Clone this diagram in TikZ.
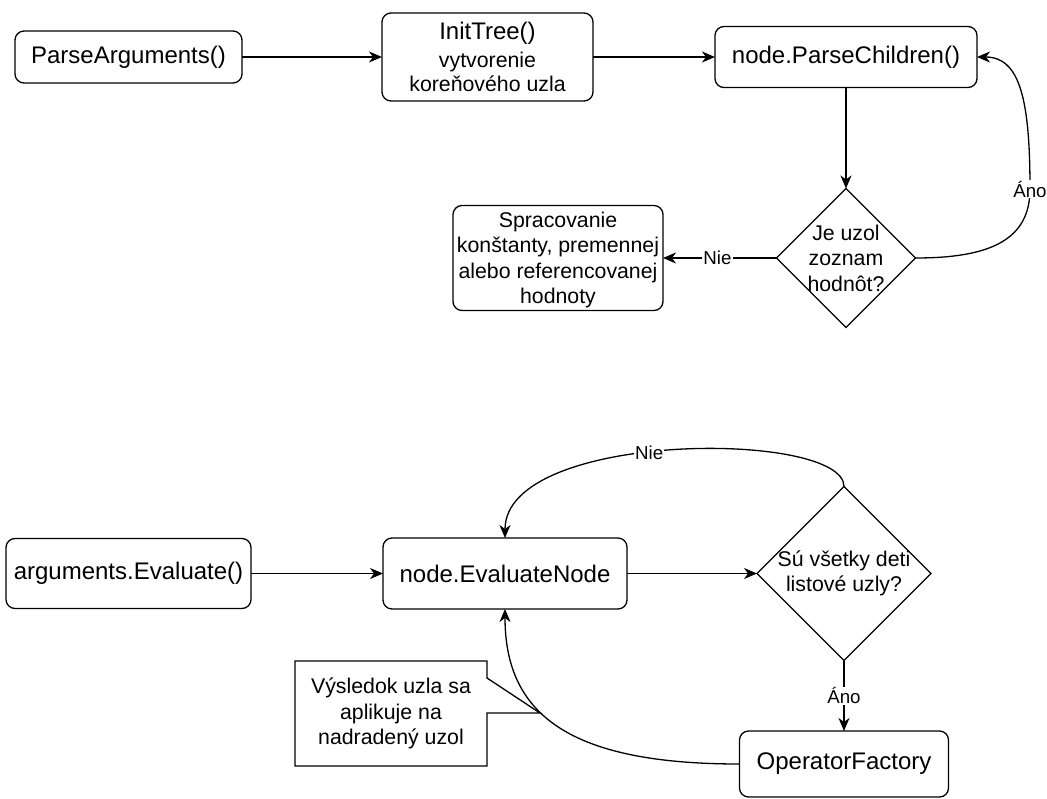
\documentclass[tikz,border=0pt]{standalone}
\usepackage{fontspec}
\setmainfont{Liberation Sans}
\usetikzlibrary{arrows.meta,shapes.geometric,calc}
\begin{document}
\begin{tikzpicture}[x=1pt,y=-1pt,
  every node/.style={inner sep=0pt, outer sep=0pt},
  box/.style={draw, line width=1.3pt, rounded corners=9pt, align=center},
  dia/.style={draw, line width=1.3pt, diamond, aspect=1},
  bigtxt/.style={font=\fontsize{24}{28}\selectfont},
  midtxt/.style={font=\fontsize{21.3}{25.5}\selectfont},
  lbl/.style={font=\fontsize{18.7}{22}\selectfont, fill=white, inner sep=1pt},
  conn/.style={line width=1.3pt, -{Stealth[length=13pt,width=11pt,inset=4pt]}},
]
\fill[white] (0,0) rectangle (1047,798);
\useasboundingbox (0,0) rectangle (1047,798);

% top row
\node[box, bigtxt, minimum width=227, minimum height=52] (pa) at (128.5,57) {ParseArguments()};
\node[box, font=\fontsize{21.3}{24}\selectfont, minimum width=211, minimum height=88] (it) at (487.5,57)
  {{\fontsize{24}{28}\selectfont InitTree()}\\[4pt]vytvorenie\\koreňového uzla};
\node[box, bigtxt, minimum width=262, minimum height=61] (pc) at (846,57) {node.ParseChildren()};
\node[dia, minimum width=139, minimum height=139] (d1) at (846,258) {};
\node[midtxt, align=center] (d1t) at (d1.center) {Je uzol\\zoznam\\hodnôt?};
\node[box, midtxt, minimum width=210, minimum height=105, text depth=0pt] (sp) at (558,258)
  {Spracovanie\\konštanty, premennej\\alebo referencovanej\\hodnoty};

% bottom row
\node[box, bigtxt, minimum width=245, minimum height=70] (ae) at (128.5,573.5) {arguments.Evaluate()};
\node[box, bigtxt, minimum width=244, minimum height=71] (en) at (505,573.5) {node.EvaluateNode};
\node[dia, minimum width=174, minimum height=174] (d2) at (844,573.5) {};
\node[midtxt, align=center] (d2t) at (d2.center) {Sú všetky deti\\listové uzly?};
\node[box, bigtxt, minimum width=209, minimum height=66] (of) at (844,764) {OperatorFactory};

% callout
\node[midtxt, align=center, minimum width=192, minimum height=105] (co) at (391,713.5)
  {Výsledok uzla sa\\aplikuje na\\nadradený uzol};
\coordinate (tip) at (540,713);
\draw[line width=1.3pt, line join=miter] (co.north west) -- (co.north east) -- ($(co.north east)+(0,17)$)
  -- (tip) -- ($(co.north east)+(0,52)$) -- (co.south east) -- (co.south west) -- cycle;

% connectors
\draw[conn] (pa.east) -- (it.west);
\draw[conn] (it.east) -- (pc.west);
\draw[conn] (pc.south) -- (d1.north);
\draw[conn] (d1.west) -- node[lbl, pos=0.52] {Nie} (sp.east);
\draw[conn] (d1.east) .. controls (990,258) and (1030,240) .. (1030,189) node[lbl] {Áno}
  .. controls (1030,100) and (1020,57) .. (pc.east);

\draw[conn] (ae.east) -- (en.west);
\draw[conn] (en.east) -- (d2.west);
\draw[conn] (d2.south) -- node[lbl, midway] {Áno} (of.north);
\draw[conn] (d2.north) .. controls (844,430) and (505,430) .. node[lbl, pos=0.55] {Nie} (en.north);
\draw[conn] (of.west) .. controls (570,764) and (505,715) .. (en.south);
\end{tikzpicture}
\end{document}
